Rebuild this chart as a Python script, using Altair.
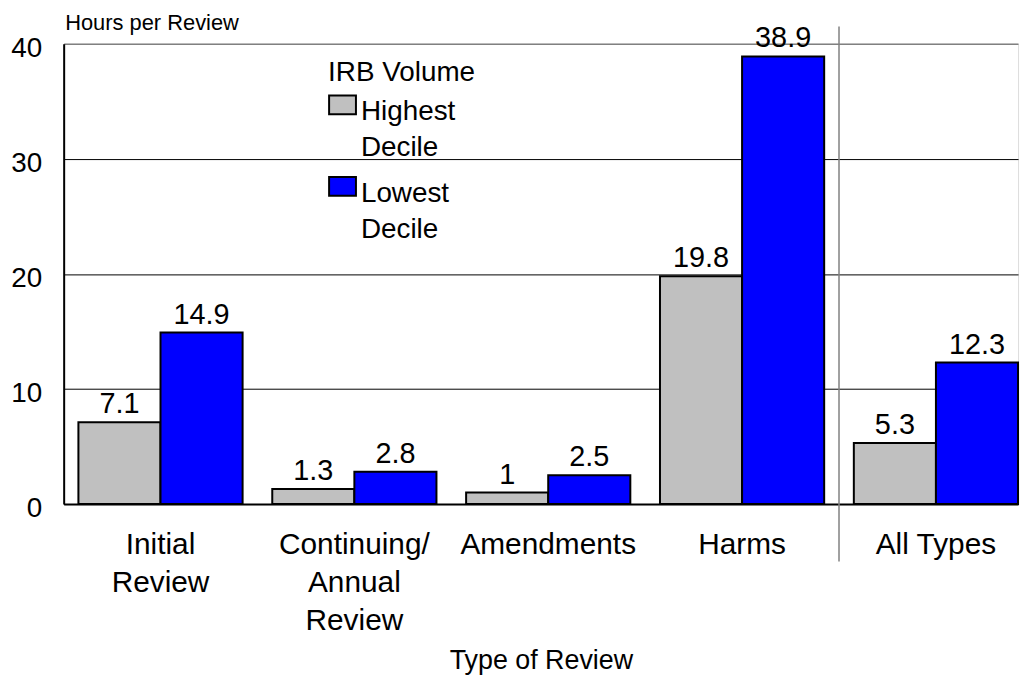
import altair as alt
import pandas as pd

# ---- data ----
categories = ["Initial|Review", "Continuing/|Annual|Review", "Amendments", "Harms", "All Types"]
series = ["Highest|Decile", "Lowest|Decile"]
highest = [7.1, 1.3, 1.0, 19.8, 5.3]
lowest = [14.9, 2.8, 2.5, 38.9, 12.3]
colors = ["#C0C0C0", "#0000FF"]
y_ticks = [0, 10, 20, 30, 40]
separator_after = ["Harms"]

rows = []
for c, h, l in zip(categories, highest, lowest):
    rows.append({"category": c, "series": series[0], "value": h})
    rows.append({"category": c, "series": series[1], "value": l})
df = pd.DataFrame(rows)
sep_df = pd.DataFrame({"category": separator_after})

FONT = "Liberation Sans"
W, H = 960, 463
P_IN, P_OUT = 0.153, 0.038
STEP = W / (len(categories) - P_IN + 2 * P_OUT)

x_scale = alt.Scale(domain=categories, paddingInner=P_IN, paddingOuter=P_OUT, align=1)
x_axis = alt.Axis(
    labelExpr="split(datum.label, '|')",
    labelAngle=0, labelFont=FONT, labelFontSize=30, labelColor="black",
    labelLineHeight=38, labelPadding=26, labelLimit=0, labelOverlap=False,
    ticks=False, grid=False, domainColor="black", domainWidth=2,
    titleFont=FONT, titleFontSize=27, titleFontWeight="normal", titleColor="black",
    titleY=165, titleBaseline="alphabetic",
)
x_enc = alt.X("category:N", sort=categories, scale=x_scale, axis=x_axis, title="Type of Review")

y_scale = alt.Scale(domain=[0, 40], nice=False, zero=True)
y_axis = alt.Axis(
    values=y_ticks, labelFont=FONT, labelFontSize=28, labelColor="black",
    labelPadding=22, labelBaseline="middle", labelOffset=5,
    ticks=False, domainColor="black", domainWidth=2,
    grid=True,
    gridColor={"condition": {"test": "datum.value == 40", "value": "#808080"}, "value": "black"},
    gridWidth={"condition": {"test": "datum.value == 40", "value": 1.6}, "value": 1},
    titleFont=FONT, titleFontSize=22, titleFontWeight="normal", titleColor="black",
    titleAngle=0, titleAlign="left", titleBaseline="alphabetic", titleX=1, titleY=-14,
)
y_enc = alt.Y("value:Q", scale=y_scale, axis=y_axis, title="Hours per Review")
xo_enc = alt.XOffset("series:N", sort=series, scale=alt.Scale(domain=series, paddingInner=0, paddingOuter=0))

legend = alt.Legend(
    title="IRB Volume", orient="none", legendX=266, legendY=15, padding=0,
    titleFont=FONT, titleFontSize=28, titleFontWeight="normal", titleColor="black",
    titlePadding=-2.5,
    labelFont=FONT, labelFontSize=28, labelColor="black", labelLimit=0,
    labelExpr="split(datum.label, '|')", labelBaseline="top", labelOffset=4,
    symbolType="M-1,-0.22H1V1.185H-1Z", symbolSize=729,
    symbolStrokeColor="black", symbolStrokeWidth=2, symbolOpacity=1,
    rowPadding=3,
)

bars = alt.Chart(df).mark_bar(stroke="black", strokeWidth=2, opacity=1).encode(
    x=x_enc, xOffset=xo_enc, y=y_enc,
    color=alt.Color("series:N", sort=series, scale=alt.Scale(domain=series, range=colors), legend=legend),
)

labels = alt.Chart(df).mark_text(
    dy=-9, baseline="alphabetic", align="center", font=FONT, fontSize=29, color="black"
).encode(
    x=x_enc, xOffset=xo_enc, y=y_enc,
    text=alt.Text("value:Q", format="~g"),
)

separator = alt.Chart(sep_df).mark_rule(
    color="#808080", strokeWidth=1.5, xOffset=STEP * P_IN / 2
).encode(
    x=alt.X("category:N", sort=categories, scale=x_scale, axis=x_axis, title="Type of Review",
            bandPosition=1),
    y=alt.datum(41.5),
    y2=alt.datum(-5),
)

chart = alt.layer(bars, separator, labels).properties(
    width=W, height=H,
    autosize=alt.AutoSizeParams(type="none"),
    padding={"left": 56, "top": 34, "right": 6, "bottom": 170},
    background="white",
).configure_view(stroke=None).configure(
    style={"guide-label": {"lineHeight": 36}}
)

chart.save("out.html", embed_options={"renderer": "svg", "actions": False})
